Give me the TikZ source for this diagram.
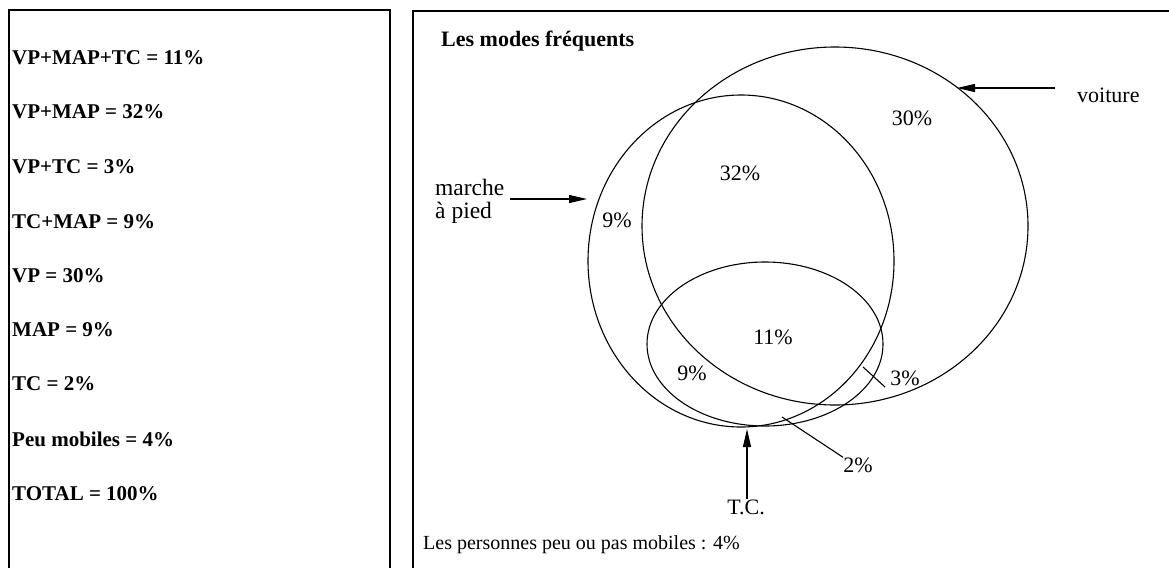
\documentclass[tikz,border=0pt]{standalone}
\usepackage{fontspec}
\setmainfont{Liberation Serif}
\usetikzlibrary{shapes.geometric,arrows.meta}
\begin{document}
\begin{tikzpicture}[x=1pt,y=-1pt,
  frame/.style={line width=1.5pt},
  venn/.style={draw, ellipse, line width=1.1pt, inner sep=0pt},
  legend/.style={anchor=west, font=\fontsize{21}{25}\selectfont\bfseries, inner sep=0pt},
  pct/.style={font=\fontsize{22}{26}\selectfont, inner sep=0pt},
  side/.style={font=\fontsize{23.5}{23}\selectfont, inner sep=0pt},
  ptr/.style={line width=1.2pt, -{Triangle[length=18pt,width=8pt]}},
  tickline/.style={line width=1.1pt}]
\useasboundingbox (0,0) rectangle (1169,568);
\fill[white] (0,0) rectangle (1169,568);
% frames
\draw[frame] (9,568) -- (9,10) -- (390,10) -- (390,568);
\draw[frame] (413,568) -- (413,11) -- (1169,11);
% legend
\node[legend] (l1) at (12,58) {VP+MAP+TC = 11\%};
\node[legend] (l2) at (12,112) {VP+MAP = 32\%};
\node[legend] (l3) at (12,167) {VP+TC = 3\%};
\node[legend] (l4) at (12,222) {TC+MAP = 9\%};
\node[legend] (l5) at (12,276) {VP = 30\%};
\node[legend] (l6) at (12,330) {MAP = 9\%};
\node[legend] (l7) at (12,384) {TC = 2\%};
\node[legend] (l8) at (12,439) {Peu mobiles = 4\%};
\node[legend] (l9) at (12,494) {TOTAL = 100\%};
% header
\node[anchor=west, inner sep=0pt, font=\fontsize{22}{26}\selectfont\bfseries] (head) at (441,41) {Les modes fréquents};
% ellipses
\node[venn, minimum width=386pt, minimum height=358pt] (vp) at (835,226) {};
\node[venn, minimum width=306pt, minimum height=332pt] (map) at (741,261) {};
\node[venn, minimum width=236pt, minimum height=164pt] (tc) at (765,344) {};
% percentages
\node[pct] (p30) at (912,118) {30\%};
\node[pct] (p32) at (740,173) {32\%};
\node[pct] (p9a) at (617,220) {9\%};
\node[pct] (p11) at (773,337) {11\%};
\node[pct] (p9b) at (692,373) {9\%};
\node[pct] (p3) at (905,378) {3\%};
\node[pct] (p2) at (858,465) {2\%};
% labels
\node[pct, anchor=west] (voit) at (1077,95) {voiture};
\node[side, anchor=west, align=left] (marche) at (435,201) {marche\\à pied};
\node[pct] (tclab) at (746,507) {T.C.};
\node[anchor=west, inner sep=0pt, font=\fontsize{20}{24}\selectfont] (peu) at (423,545) {Les personnes peu ou pas mobiles : 4\%};
% pointers
\coordinate (vtail) at (1055,88);
\coordinate (vtip) at (957,88);
\coordinate (mtail) at (510,199);
\coordinate (mtip) at (587,199);
\coordinate (ttip) at (747,429);
\draw[ptr] (vtail) -- (vtip);
\draw[ptr] (mtail) -- (mtip);
\draw[ptr] (tclab.north -| ttip) -- (ttip);
\coordinate (twoend) at (782,417);
\draw[tickline] (p2.north west) -- (twoend);
\coordinate (t3a) at (863,367);
\coordinate (t3b) at (885,387);
\draw[tickline] (t3a) -- (t3b);
\end{tikzpicture}
\end{document}
